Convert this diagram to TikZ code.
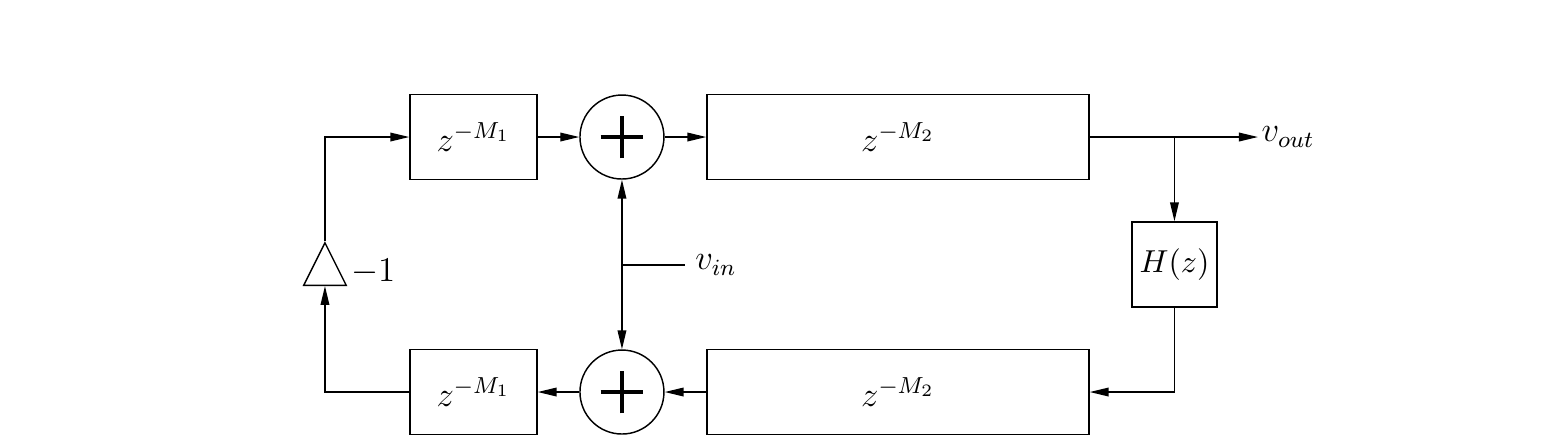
\documentclass[tikz,border=0pt]{standalone}
\usepackage{amsmath}
\usetikzlibrary{arrows.meta}
\usetikzlibrary{positioning, shapes.geometric}

\begin{document}
\begin{tikzpicture}[>={Triangle[length=2.3mm, width=1.05mm]}, line width=0.5pt,
  delay/.style={draw, rectangle, minimum height=1.03cm, inner sep=0pt, font=\fontsize{11.5}{14}\selectfont},
  adder/.style={draw, circle, minimum size=1.018cm, inner sep=0pt,
    path picture={\draw[line width=1.6pt]
      ([xshift=-2.6mm]path picture bounding box.center) -- ([xshift=2.6mm]path picture bounding box.center)
      ([yshift=-2.6mm]path picture bounding box.center) -- ([yshift=2.6mm]path picture bounding box.center);}},
  gainbox/.style={draw, isosceles triangle, isosceles triangle stretches, shape border rotate=90,
    minimum width=0.515cm, minimum height=0.515cm, inner sep=0pt},
  sig/.style={font=\large}]

\useasboundingbox (0,0) rectangle (18.958,5.297);

% upper branch
\node[delay, minimum width=1.539cm] (mtop) at (5.739,3.636) {$z^{-M_1}$};
\node[adder] (addtop) at (7.539,3.636) {};
\node[delay, minimum width=4.63cm] (ntop) at (10.885,3.636) {$z^{-M_2}$};

% lower branch
\node[delay, minimum width=1.539cm] (mbot) at (5.739,0.545) {$z^{-M_1}$};
\node[adder] (addbot) at (7.539,0.545) {};
\node[delay, minimum width=4.63cm] (nbot) at (10.885,0.545) {$z^{-M_2}$};

% loss filter and inverter
\node[delay, minimum width=1.03cm, font=\fontsize{11}{13}\selectfont] (hz) at (14.236,2.091) {$H(z)$};
\node[gainbox, anchor=south] (gain) at (3.939,1.830) {};
\node[right=0.12cm of gain.east, inner sep=0pt] (gainlbl) {\large$-1$};

\coordinate (split) at (14.236,3.636);
\coordinate (out) at (15.248,3.636);
\coordinate (vj) at (7.539,2.085);
\coordinate (vend) at (8.303,2.085);

\draw[->] (mtop) -- (addtop);
\draw[->] (addtop) -- (ntop);
\draw[->] (ntop) -- (out) node[sig, right, inner sep=1pt] (vout) {$v_{out}$};
\draw[->] (split) -- (hz);
\draw[->] (hz.south) |- (nbot.east);
\draw[->] (nbot) -- (addbot);
\draw[->] (addbot) -- (mbot);
\draw[->] (mbot.west) -| (gain.south);
\draw[->] (gain.north) |- (mtop.west);

\draw[->] (vj) -- (addtop.south);
\draw[->] (vj) -- (addbot.north);
\draw (vj) -- (vend) node[sig, right] (vin) {$v_{in}$};

\end{tikzpicture}
\end{document}
